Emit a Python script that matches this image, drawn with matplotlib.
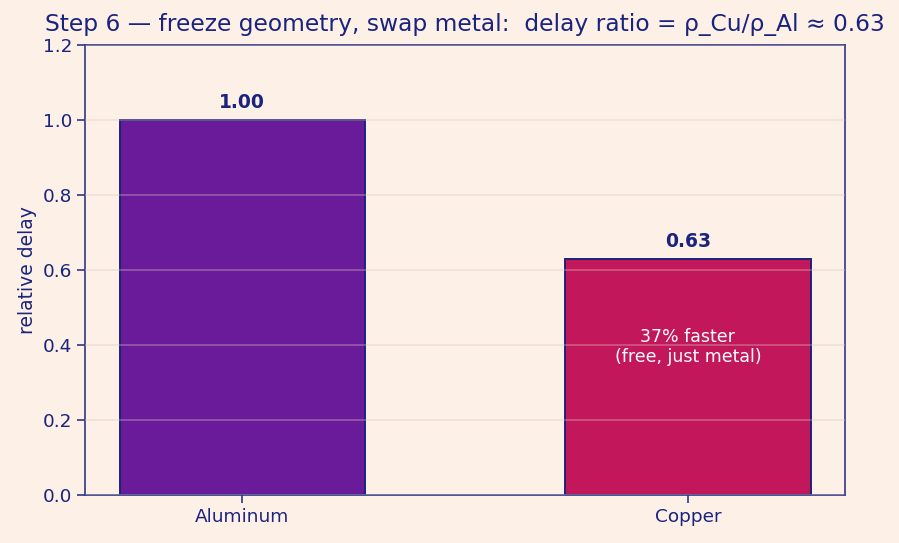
import matplotlib.pyplot as plt

# Daten
metals = ['Aluminum', 'Copper']
delay = [1.00, 0.63]
bar_colors = ['#6a1b9a', '#c2185b']

bg = '#fdf1e7'
navy = '#1a237e'

fig, ax = plt.subplots(figsize=(8.99, 5.43), dpi=100)
fig.patch.set_facecolor(bg)
ax.set_facecolor(bg)

bars = ax.bar(metals, delay, width=0.55, color=bar_colors, edgecolor=navy, linewidth=1.4)

for b, v in zip(bars, delay):
    ax.text(b.get_x() + b.get_width() / 2, v + 0.022, f'{v:.2f}', ha='center', va='bottom',
            fontsize=13.5, fontweight='bold', color=navy)

ax.text(bars[1].get_x() + bars[1].get_width() / 2, 0.395, '37% faster\n(free, just metal)',
        ha='center', va='center', fontsize=12.5, color='white')

ax.set_ylim(0, 1.2)
ax.set_ylabel('relative delay', fontsize=13.5, color=navy)
ax.set_title('Step 6 \u2014 freeze geometry, swap metal:  delay ratio = \u03c1_Cu/\u03c1_Al \u2248 0.63',
             fontsize=16.8, color=navy, pad=10)
ax.yaxis.grid(True, color='#dcc8c0', linewidth=1.3, alpha=0.35)
ax.set_axisbelow(False)
for s in ax.spines.values():
    s.set_color('#2f3588')
    s.set_linewidth(1.2)
ax.tick_params(colors=navy, labelsize=13.3, width=1.2, length=5.5)
ax.tick_params(axis='both', color='#2f3588')

plt.subplots_adjust(left=0.0945, right=0.94, top=0.917, bottom=0.088)
plt.savefig('out.png', facecolor=bg)
